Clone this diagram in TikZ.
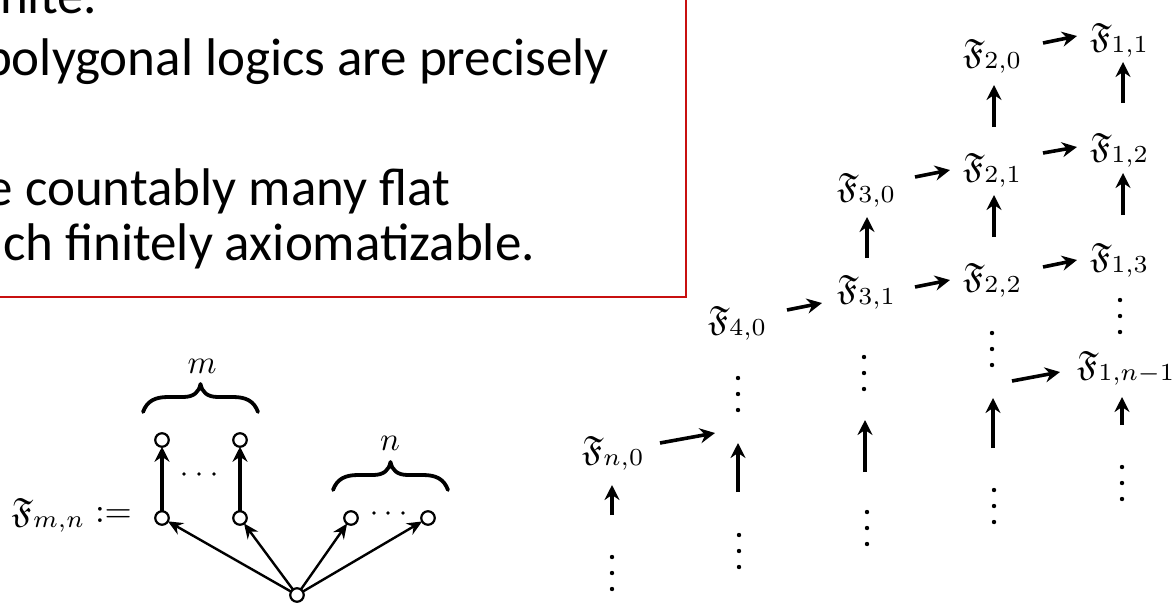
\documentclass[tikz,border=0pt]{standalone}
\usepackage{amssymb}
\usepackage{graphicx}
\usepackage{fontspec}
\newfontfamily\slidefont{Carlito}
\usetikzlibrary{arrows.meta,calc}
\definecolor{boxred}{RGB}{200,16,16}
\newcommand{\mth}[1]{\scalebox{3.5}{$#1$}}
\newcommand{\mlet}[1]{\scalebox{3.3}{$#1$}}
\tikzset{
  every node/.style={inner sep=0pt, outer sep=0pt},
  slideline/.style={font=\slidefont\fontsize{53}{63}\selectfont, anchor=base east},
  fnode/.style={anchor=base west},
  arr/.style={line width=3.6pt, -{Stealth[length=15pt,width=15pt,inset=5pt]}},
  thinarr/.style={line width=2.4pt, -{Stealth[length=15pt,width=13pt,inset=5pt]}},
  vert/.style={circle, draw, line width=2.2pt, minimum size=13.5pt, inner sep=0pt},
  smalldot/.style={circle, fill, inner sep=0pt, minimum size=4.4pt},
  hdot/.style={circle, fill, inner sep=0pt, minimum size=3.6pt},
  bracestroke/.style={line width=3.8pt, line cap=round, line join=round},
  redframe/.style={draw=boxred, line width=2pt}
}
\begin{document}
\begin{tikzpicture}[x=1pt,y=-1pt]
\useasboundingbox (0,0) rectangle (1173,603);
\clip (0,0) rectangle (1173,603);

% ---------- text box ----------
\draw[redframe] (-20,-20) rectangle (686,297);
\node[slideline] (t1) at (97,13) {nite.};
\node[slideline] (t2) at (609,75) {polygonal logics are precisely};
\node[slideline] (t3) at (450,205) {e countably many flat};
\node[slideline] (t4) at (535,260) {ch finitely axiomatizable.};

% ---------- left diagram ----------
\node[anchor=base east] (Fmn) at (132,522) {\mth{\mathfrak{F}_{m,n} :=}};
\node[vert] (tl) at (162,440) {};
\node[vert] (tr) at (240,440) {};
\node[vert] (bl) at (162,518) {};
\node[vert] (br) at (240,518) {};
\node[vert] (n1) at (351,518) {};
\node[vert] (n2) at (428,518) {};
\node[vert] (root) at (297,595) {};
\draw[arr] (bl) -- (tl);
\draw[arr] (br) -- (tr);
\draw[thinarr] (root) -- (bl);
\draw[thinarr] (root) -- (br);
\draw[thinarr] (root) -- (n1);
\draw[thinarr] (root) -- (n2);
\foreach \i/\x in {1/184,2/199,3/214} \node[hdot] (hm\i) at (\x,474) {};
\foreach \i/\x in {1/374,2/388,3/403} \node[hdot] (hn\i) at (\x,513) {};
\node (mlab) at (202,366) {\mlet{m}};
\node (nlab) at (390,443) {\mlet{n}};
\draw[bracestroke] (143,412) .. controls (147,401) and (155,397) .. (168,397) -- (183,397)
  .. controls (194,397) and (199,392) .. (200.5,384)
  .. controls (202,392) and (207,397) .. (218,397) -- (233,397)
  .. controls (246,397) and (254,401) .. (258,412);
\begin{scope}[shift={(190,78)}]
\draw[bracestroke] (143,412) .. controls (147,401) and (155,397) .. (168,397) -- (183,397)
  .. controls (194,397) and (199,392) .. (200.5,384)
  .. controls (202,392) and (207,397) .. (218,397) -- (233,397)
  .. controls (246,397) and (254,401) .. (258,412);
\end{scope}

% ---------- right diagram ----------
\node[fnode] (F11) at (1090,47) {\mth{\mathfrak{F}_{1,1}}};
\node[fnode] (F12) at (1090,157) {\mth{\mathfrak{F}_{1,2}}};
\node[fnode] (F13) at (1090,267) {\mth{\mathfrak{F}_{1,3}}};
\node[fnode] (F1n) at (1077,375) {\mth{\mathfrak{F}_{1,n-1}}};
\node[fnode] (F20) at (963,63) {\mth{\mathfrak{F}_{2,0}}};
\node[fnode] (F21) at (963,177) {\mth{\mathfrak{F}_{2,1}}};
\node[fnode] (F22) at (963,287) {\mth{\mathfrak{F}_{2,2}}};
\node[fnode] (F30) at (837,197) {\mth{\mathfrak{F}_{3,0}}};
\node[fnode] (F31) at (837,299) {\mth{\mathfrak{F}_{3,1}}};
\node[fnode] (F40) at (708,330) {\mth{\mathfrak{F}_{4,0}}};
\node[fnode] (Fn0) at (582,460) {\mth{\mathfrak{F}_{n,0}}};

% free ends in the gaps
\coordinate (g4m) at (715,433);
\coordinate (g4t) at (738,443);
\coordinate (g4b) at (738,492);
\coordinate (gn0b) at (612,515);
\coordinate (g3t) at (865,420);
\coordinate (g3b) at (865,472);
\coordinate (g2t) at (993,398);
\coordinate (g2b) at (993,448);
\coordinate (g2m) at (1012,381);
\coordinate (g1b) at (1122,425);

% horizontal-ish arrows
\draw[arr] ($(F20.base west)+(80,-20)$) -- ($(F11.base west)+(-13,-11)$);
\draw[arr] ($(F21.base west)+(80,-24)$) -- ($(F12.base west)+(-13,-10)$);
\draw[arr] ($(F22.base west)+(80,-20)$) -- ($(F13.base west)+(-13,-7)$);
\draw[arr] ($(F30.base west)+(78,-20)$) -- ($(F21.base west)+(-13,-7)$);
\draw[arr] ($(F31.base west)+(78,-12)$) -- ($(F22.base west)+(-13,-7)$);
\draw[arr] ($(F40.base west)+(79,-20)$) -- ($(F31.base west)+(-15,4)$);
\draw[arr] ($(Fn0.base west)+(78,-17)$) -- (g4m);
\draw[arr] (g2m) -- ($(F1n.base west)+(-17,-3)$);

% vertical arrows
\draw[arr] ($(F21.base west)+(31,-50)$) -- ($(F20.base west)+(31,22)$);
\draw[arr] ($(F12.base west)+(33,-54)$) -- ($(F11.base west)+(33,15)$);
\draw[arr] ($(F22.base west)+(31,-50)$) -- ($(F21.base west)+(31,18)$);
\draw[arr] ($(F13.base west)+(33,-52)$) -- ($(F12.base west)+(33,16)$);
\draw[arr] ($(F31.base west)+(30,-41)$) -- ($(F30.base west)+(30,20)$);
\draw[arr] (g4b) -- (g4t);
\draw[arr] (gn0b) -- ($(Fn0.base west)+(30,25)$);
\draw[arr] (g3b) -- (g3t);
\draw[arr] (g2b) -- (g2t);
\draw[arr] (g1b) -- ($(F1n.base west)+(45,22)$);

% vertical dots
\foreach \n/\x/\y in {c4t/738/378, c4b/739/535, cn0/612/557, c3t/864/357, c3b/867/512,
                      c2t/992/333, c2b/994/490, c1t/1120/300, c1b/1122/467} {
  \foreach \k in {0,1,2} \node[smalldot] (\n\k) at (\x,\y+16*\k) {};
}
\end{tikzpicture}
\end{document}
